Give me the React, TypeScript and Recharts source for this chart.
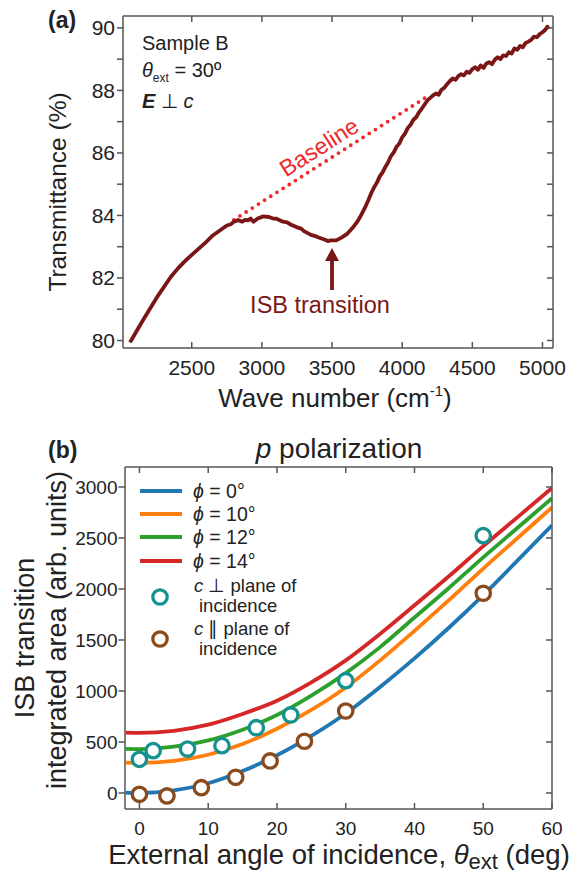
import { ComposedChart, LineChart, Line, Scatter, XAxis, YAxis } from 'recharts';

const FONT = '"Liberation Sans", Arial, sans-serif';
const INK = '#222';
const AXIS = '#555';
const DARK_RED = '#7b1616';

// (a) transmittance spectrum, Sample B, theta_ext = 30
const waveNumber = [
  2060, 2100, 2150, 2200, 2250, 2300, 2350, 2400, 2450, 2500, 2550, 2600, 2650, 2700, 2750, 2780,
  2800, 2830, 2860, 2880, 2900, 2920, 2940, 2970, 3010, 3050, 3080, 3100, 3150, 3180, 3200, 3250,
  3280, 3300, 3350, 3380, 3400, 3450, 3470, 3490, 3530, 3570, 3610, 3650, 3680,
  3700, 3720, 3740, 3760, 3780, 3800, 3820, 3840, 3860, 3880, 3900, 3920, 3940, 3960, 3980, 4000,
  4020, 4040, 4060, 4080, 4100, 4120, 4140, 4160, 4180, 4200, 4220, 4240, 4260, 4280, 4300, 4320,
  4340, 4360, 4380, 4400, 4420, 4440, 4460, 4480, 4500, 4520, 4540, 4560, 4580, 4600, 4620, 4640,
  4660, 4680, 4700, 4720, 4740, 4760, 4780, 4800, 4820, 4840, 4860, 4880, 4900, 4920, 4940, 4960,
  4980, 5000, 5020, 5035, 5045,
];
const transmittance = [
  79.94, 80.25, 80.63, 81.0, 81.37, 81.7, 82.03, 82.3, 82.53, 82.74, 82.94, 83.14, 83.36, 83.52, 83.68, 83.72,
  83.8, 83.85, 83.8, 83.86, 83.84, 83.9, 83.8, 83.9, 83.97, 83.95, 83.9, 83.9, 83.8, 83.78, 83.72, 83.62,
  83.58, 83.5, 83.38, 83.34, 83.3, 83.22, 83.18, 83.2, 83.2, 83.3, 83.42, 83.62, 83.8,
  83.95, 84.12, 84.3, 84.5, 84.72, 84.9, 85.05, 85.25, 85.38, 85.55, 85.7, 85.9, 86.02, 86.2, 86.3, 86.5,
  86.62, 86.8, 86.9, 87.06, 87.14, 87.3, 87.42, 87.55, 87.68, 87.76, 87.84, 87.9, 87.86, 88.02, 88.08, 88.2,
  88.3, 88.38, 88.34, 88.46, 88.52, 88.48, 88.6, 88.56, 88.68, 88.74, 88.66, 88.8, 88.72, 88.86, 88.9, 88.84,
  88.98, 89.06, 89.0, 89.12, 89.1, 89.22, 89.18, 89.34, 89.3, 89.42, 89.38, 89.52, 89.56, 89.62, 89.72, 89.7,
  89.8, 89.86, 89.94, 90.04, 89.96,
];
const baselineWn = [2800, 4166];
const baselineT = [83.86, 87.77];
const wnTicks = [2250, 2500, 2750, 3000, 3250, 3500, 3750, 4000, 4250, 4500, 4750, 5000];
const tTicks = [80, 81, 82, 83, 84, 85, 86, 87, 88, 89, 90];

// (b) ISB transition integrated area vs external angle
const angles = [-2, 0, 5, 10, 15, 20, 25, 30, 35, 40, 45, 50, 55, 60];
const phi0 = [4, 0, 25, 95, 215, 370, 560, 780, 1040, 1320, 1620, 1940, 2280, 2625];
const phi10 = [297, 295, 315, 375, 480, 630, 815, 1035, 1300, 1590, 1890, 2200, 2500, 2800];
const phi12 = [433, 431, 455, 515, 620, 765, 955, 1175, 1430, 1720, 2010, 2310, 2600, 2890];
const phi14 = [592, 590, 610, 670, 775, 905, 1085, 1300, 1560, 1840, 2125, 2420, 2705, 2990];
const perpAngles = [0, 2, 7, 12, 17, 22, 30, 50];
const perpArea = [330, 415, 431, 464, 640, 765, 1101, 2523];
const parAngles = [0, 4, 9, 14, 19, 24, 30, 50];
const parArea = [-13, -29, 52, 154, 314, 507, 804, 1958];
const angleTicks = [0, 10, 20, 30, 40, 50, 60];
const areaTicks = [0, 500, 1000, 1500, 2000, 2500, 3000];

const phiSeries = [
  { key: 'phi0', label: '0°', color: '#1f77b4' },
  { key: 'phi10', label: '10°', color: '#ff7f0e' },
  { key: 'phi12', label: '12°', color: '#2ca02c' },
  { key: 'phi14', label: '14°', color: '#d62728' },
];
const TEAL = '#15918f';
const BROWN = '#8b4a1c';

const spectrum = waveNumber.map((wn, i) => ({ wn, t: transmittance[i] }));
const baseline = baselineWn.map((wn, i) => ({ wn, base: baselineT[i] }));
const fits = angles.map((x, i) => ({ x, phi0: phi0[i], phi10: phi10[i], phi12: phi12[i], phi14: phi14[i] }));
const perpPoints = perpAngles.map((x, i) => ({ x, y: perpArea[i] }));
const parPoints = parAngles.map((x, i) => ({ x, y: parArea[i] }));

const axisStyle = { stroke: AXIS, strokeWidth: 1.5 };
const noLabel = () => <g />;

function WnTick({ x, y, payload }: any) {
  if (payload.value % 500 !== 0) return <g />;
  return (
    <text x={x} y={y} dy="0.71em" textAnchor="middle" fontSize={21} fontFamily={FONT} fill={INK}>
      {payload.value}
    </text>
  );
}

function TTick({ x, y, payload }: any) {
  if (payload.value % 2 !== 0) return <g />;
  return (
    <text x={x} y={y} dy="0.355em" textAnchor="end" fontSize={21} fontFamily={FONT} fill={INK}>
      {payload.value}
    </text>
  );
}

function AngleTick({ x, y, payload }: any) {
  return (
    <text x={x} y={y} dy="0.71em" textAnchor="middle" fontSize={19} fontFamily={FONT} fill={INK}>
      {payload.value}
    </text>
  );
}

function AreaTick({ x, y, payload }: any) {
  return (
    <text x={x} y={y} dy="0.355em" textAnchor="end" fontSize={19} fontFamily={FONT} fill={INK}>
      {payload.value}
    </text>
  );
}

const Ring = (color: string) => (props: any) => (
  <circle cx={props.cx} cy={props.cy} r={7.2} fill="#fff" stroke={color} strokeWidth={3.3} />
);

function SpectrumChart() {
  return (
    <LineChart width={585} height={430} data={spectrum} margin={{ top: 15, right: 31, bottom: 42, left: 63 }}>
      <XAxis dataKey="wn" type="number" domain={[2010, 5075]} allowDataOverflow ticks={wnTicks}
        height={40} tickSize={-6} tickMargin={18} tick={WnTick} axisLine={axisStyle} tickLine={axisStyle} />
      <XAxis xAxisId="top" orientation="top" dataKey="wn" type="number" domain={[2010, 5075]} allowDataOverflow
        ticks={wnTicks} height={1} tickSize={-6} tick={noLabel} axisLine={axisStyle} tickLine={axisStyle} />
      <YAxis type="number" domain={[79.76, 90.38]} allowDataOverflow ticks={tTicks} width={60}
        tickSize={6} tickMargin={2} tick={TTick} axisLine={axisStyle} tickLine={axisStyle} />
      <YAxis yAxisId="right" orientation="right" type="number" domain={[79.76, 90.38]} allowDataOverflow
        ticks={tTicks} width={1} tickSize={-6} tick={noLabel} axisLine={axisStyle} tickLine={axisStyle} />
      <Line data={baseline} dataKey="base" stroke="#f0282a" strokeWidth={3.8} strokeDasharray="0 7.3"
        strokeLinecap="round" dot={false} isAnimationActive={false} />
      <Line dataKey="t" stroke={DARK_RED} strokeWidth={3.8} strokeLinejoin="round" dot={false}
        isAnimationActive={false} />
    </LineChart>
  );
}

function AreaChart() {
  return (
    <ComposedChart width={585} height={445} data={fits} margin={{ top: 36, right: 32, bottom: 26, left: 65 }}>
      <XAxis dataKey="x" type="number" domain={[-2.1, 60]} allowDataOverflow ticks={angleTicks}
        height={40} tickSize={-6} tickMargin={19} tick={AngleTick} axisLine={axisStyle} tickLine={axisStyle} />
      <XAxis xAxisId="top" orientation="top" dataKey="x" type="number" domain={[-2.1, 60]} allowDataOverflow
        ticks={angleTicks} height={1} tickSize={-6} tick={noLabel} axisLine={axisStyle} tickLine={axisStyle} />
      <YAxis type="number" domain={[-157, 3196]} allowDataOverflow ticks={areaTicks} width={60}
        tickSize={6.5} tickMargin={1} tick={AreaTick} axisLine={axisStyle} tickLine={axisStyle} />
      <YAxis yAxisId="right" orientation="right" type="number" domain={[-157, 3196]} allowDataOverflow
        ticks={areaTicks} width={1} tickSize={-6} tick={noLabel} axisLine={axisStyle} tickLine={axisStyle} />
      {phiSeries.map((s) => (
        <Line key={s.key} type="monotone" dataKey={s.key} stroke={s.color} strokeWidth={3.8} dot={false}
          isAnimationActive={false} />
      ))}
      <Scatter data={perpPoints} dataKey="y" shape={Ring(TEAL)} isAnimationActive={false} />
      <Scatter data={parPoints} dataKey="y" shape={Ring(BROWN)} isAnimationActive={false} />
    </ComposedChart>
  );
}

function Overlay() {
  const legendY = [491, 514, 537, 561];
  return (
    <svg width={585} height={875} style={{ position: 'absolute', left: 0, top: 0, pointerEvents: 'none' }}
      fontFamily={FONT} fill={INK}>
      {/* panel (a) */}
      <text x={48} y={28} fontSize={23} fontWeight="bold">(a)</text>
      <text x={142} y={50} fontSize={20}>Sample B</text>
      <text x={142} y={77} fontSize={20}>
        <tspan fontStyle="italic">θ</tspan>
        <tspan fontSize={12} dy={5}>ext</tspan>
        <tspan dy={-5}> = 30º</tspan>
      </text>
      <text x={142} y={108} fontSize={20}>
        <tspan fontWeight="bold" fontStyle="italic">E</tspan>
        <tspan> ⊥ </tspan>
        <tspan fontStyle="italic">c</tspan>
      </text>
      <text x={0} y={0} fontSize={24.5} textAnchor="middle" dominantBaseline="central"
        transform="translate(57,192) rotate(-90)">Transmittance (%)</text>
      <text x={335} y={407} fontSize={26} textAnchor="middle">
        Wave number (cm<tspan fontSize={15} dy={-11}>-1</tspan><tspan dy={11}>)</tspan>
      </text>
      <text x={0} y={0} fontSize={23} fill="#f0282a" textAnchor="middle" dominantBaseline="central"
        transform="translate(319,147) rotate(-32.4)">Baseline</text>
      <text x={320} y={313} fontSize={23.5} fill={DARK_RED} textAnchor="middle">ISB transition</text>
      <line x1={332} y1={290} x2={332} y2={258} stroke={DARK_RED} strokeWidth={3.8} />
      <polygon points="325,261 339,261 332,248" fill={DARK_RED} />

      {/* panel (b) */}
      <text x={48} y={458} fontSize={23} fontWeight="bold">(b)</text>
      <text x={339} y={458} fontSize={28} textAnchor="middle">
        <tspan fontStyle="italic">p</tspan> polarization
      </text>
      <text x={0} y={0} fontSize={27} textAnchor="middle" dominantBaseline="central"
        transform="translate(25,638) rotate(-90)">ISB transition</text>
      <text x={0} y={0} fontSize={27} textAnchor="middle" dominantBaseline="central"
        transform="translate(57,630) rotate(-90)">integrated area (arb. units)</text>
      <text x={339} y={864} fontSize={27.5} textAnchor="middle">
        External angle of incidence, <tspan fontStyle="italic">θ</tspan>
        <tspan fontSize={22} dy={5}>ext</tspan>
        <tspan dy={-5}>  (deg)</tspan>
      </text>
      {phiSeries.map((s, i) => (
        <g key={s.key}>
          <line x1={140} y1={legendY[i]} x2={182} y2={legendY[i]} stroke={s.color} strokeWidth={3.8} />
          <text x={193} y={legendY[i]} fontSize={19.5} dominantBaseline="central">
            <tspan fontStyle="italic">ϕ</tspan> = {s.label}
          </text>
        </g>
      ))}
      <circle cx={160} cy={597} r={7.2} fill="#fff" stroke={TEAL} strokeWidth={3.3} />
      <text x={194} y={585} fontSize={18.5} dominantBaseline="central">
        <tspan fontStyle="italic">c</tspan> ⊥ plane of
      </text>
      <text x={199} y={605} fontSize={18.5} dominantBaseline="central">incidence</text>
      <circle cx={160} cy={639} r={7.2} fill="#fff" stroke={BROWN} strokeWidth={3.3} />
      <text x={194} y={628} fontSize={18.5} dominantBaseline="central">
        <tspan fontStyle="italic">c</tspan> ∥ plane of
      </text>
      <text x={199} y={648} fontSize={18.5} dominantBaseline="central">incidence</text>
    </svg>
  );
}

export default function App() {
  return (
    <div style={{ position: 'absolute', left: 0, top: 0, width: 585, height: 875, background: '#fff' }}>
      <div style={{ position: 'absolute', left: 0, top: 0 }}>
        <SpectrumChart />
      </div>
      <div style={{ position: 'absolute', left: 0, top: 430 }}>
        <AreaChart />
      </div>
      <Overlay />
    </div>
  );
}
